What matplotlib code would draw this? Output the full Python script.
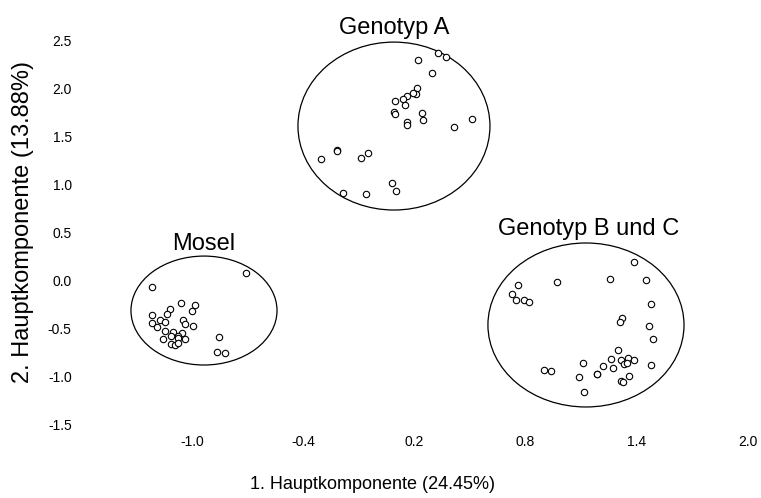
import numpy as np
import matplotlib
matplotlib.use('Agg')
import matplotlib.pyplot as plt
from matplotlib.patches import Ellipse

plt.rcParams['font.family'] = ['Liberation Sans', 'DejaVu Sans']

# PCA scores, one pair of arrays per group
genA_x = [0.221, 0.329, 0.371, 0.295, 0.216, 0.209, 0.194, 0.162, 0.137, 0.097,
          0.148, 0.090, 0.096, 0.240, 0.248, 0.162, 0.162, 0.513, 0.416, -0.216,
          -0.216, -0.304, -0.088, -0.049, 0.079, 0.103, -0.183, -0.063]
genA_y = [2.292, 2.362, 2.320, 2.154, 2.004, 1.939, 1.946, 1.921, 1.887, 1.866,
          1.824, 1.755, 1.731, 1.738, 1.669, 1.651, 1.617, 1.679, 1.593, 1.357,
          1.350, 1.266, 1.271, 1.329, 1.011, 0.931, 0.907, 0.900]

mosel_x = [-0.707, -1.214, -1.058, -0.984, -0.998, -1.119, -1.137, -1.216, -1.216, -1.173,
           -1.147, -1.187, -1.050, -1.036, -0.993, -1.147, -1.104, -1.054, -1.077, -1.115,
           -1.155, -1.074, -1.036, -1.112, -1.092, -1.074, -0.856, -0.867, -0.820]
mosel_y = [0.076, -0.063, -0.230, -0.257, -0.319, -0.295, -0.347, -0.361, -0.437, -0.409,
           -0.430, -0.485, -0.412, -0.451, -0.475, -0.527, -0.537, -0.544, -0.576, -0.576,
           -0.610, -0.596, -0.607, -0.659, -0.666, -0.651, -0.589, -0.739, -0.749]

genBC_x = [1.387, 1.254, 1.448, 0.970, 0.758, 0.729, 0.749, 0.793, 0.820, 1.477,
           1.319, 1.308, 1.465, 1.486, 1.297, 1.263, 1.315, 1.355, 1.384, 1.331,
           1.346, 1.110, 1.220, 1.274, 1.475, 0.901, 0.939, 1.187, 1.187, 1.090,
           1.357, 1.317, 1.328, 1.114]
genBC_y = [0.196, 0.017, 0.009, -0.015, -0.043, -0.139, -0.202, -0.205, -0.225, -0.240,
           -0.389, -0.427, -0.475, -0.607, -0.721, -0.811, -0.825, -0.801, -0.825, -0.870,
           -0.853, -0.856, -0.887, -0.911, -0.874, -0.926, -0.936, -0.967, -0.970, -1.002,
           -0.991, -1.040, -1.054, -1.161]

group_names = ['Genotyp A', 'Mosel', 'Genotyp B und C']
# ellipse centre, width, height (data units)
ell_cx = [0.090, -0.935, 1.126]
ell_cy = [1.606, -0.311, -0.461]
ell_w = [1.036, 0.788, 1.058]
ell_h = [1.745, 1.132, 1.704]

xticks = [-1.0, -0.4, 0.2, 0.8, 1.4, 2.0]
yticks = [-1.5, -1.0, -0.5, 0.0, 0.5, 1.0, 1.5, 2.0, 2.5]

fig = plt.figure(figsize=(7.61, 4.98), dpi=100)
ax = fig.add_axes([80/761, 66/498, 675/761, 412/498])

for xs, ys in [(genA_x, genA_y), (mosel_x, mosel_y), (genBC_x, genBC_y)]:
    ax.plot(xs, ys, 'o', ms=4.6, mfc='white', mec='black', mew=0.8, ls='none')

label_off = [10.5, 9, 10]  # points above ellipse top
dx_off = [0, 0, 2]
for i in range(3):
    ax.add_patch(Ellipse((ell_cx[i], ell_cy[i]), ell_w[i], ell_h[i],
                         fill=False, ec='black', lw=0.9))
    ax.annotate(group_names[i], xy=(ell_cx[i], ell_cy[i] + ell_h[i]/2),
                xytext=(dx_off[i], label_off[i]), textcoords='offset points',
                ha='center', va='center', fontsize=17)

ax.set_xlim(-1.604, 2.038)
ax.set_ylim(-1.573, 2.708)
ax.set_xticks(xticks)
ax.set_xticklabels([f'{v:.1f}' for v in xticks])
ax.set_yticks(yticks)
ax.set_yticklabels([f'{v:.1f}' for v in yticks])
ax.tick_params(length=0, labelsize=10)
ax.tick_params(axis='x', pad=2)
ax.tick_params(axis='y', pad=6)
for s in ax.spines.values():
    s.set_visible(False)

ax.set_xlabel('1. Hauptkomponente (24.45%)', fontsize=13)
ax.xaxis.set_label_coords(0.433, -0.128)
ax.xaxis.label.set_va('center')
ax.set_ylabel('2. Hauptkomponente (13.88%)', fontsize=17)
ax.yaxis.set_label_coords(-0.085, 0.51)
ax.yaxis.label.set_va('center')

fig.savefig('out.png', dpi=100)
